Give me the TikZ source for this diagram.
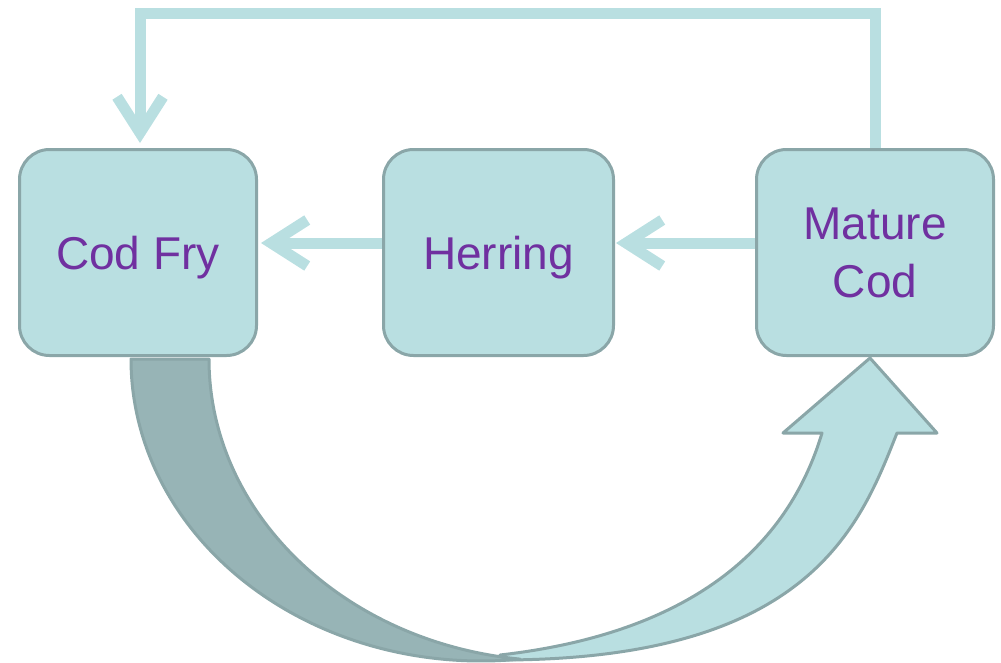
\documentclass[tikz,border=0pt]{standalone}
\usepackage{fontspec}
\setmainfont{Liberation Sans}
\usetikzlibrary{arrows.meta}
\definecolor{boxfill}{HTML}{B9DFE1}
\definecolor{boxline}{HTML}{8AA6A8}
\definecolor{backfill}{HTML}{97B4B6}
\definecolor{labelpurple}{HTML}{7030A0}
\begin{document}
\begin{tikzpicture}[x=1pt,y=-1pt,
  stage/.style={draw=boxline, line width=3pt, fill=boxfill, rounded corners=30pt,
    minimum height=206pt, inner sep=0pt, text=labelpurple,
    font=\fontsize{46pt}{58pt}\selectfont, align=center},
  conn/.style={draw=boxfill, line width=11pt,
    -{Straight Barb[sharp, length=36pt, width=46pt]}},
  band/.style={draw=boxline, line width=3pt, line join=round}]
\useasboundingbox (0,0) rectangle (1001,662);

% cycle arrow under the boxes: light front part, then shaded back part
\draw[band, fill=boxfill] (500,660) .. controls (810,660) and (860,526) .. (897,433)
  -- (937,433) -- (870,358) -- (783,433) -- (822,433)
  .. controls (795,523) and (720,630) .. (500,655) -- cycle;
\draw[band, fill=backfill] (131,359)
  arc[start angle=180, end angle=276.4, x radius=350pt, y radius=302pt]
  arc[start angle=263.6, end angle=180, x radius=350pt, y radius=302pt] -- cycle;

% life stages
\node[stage, minimum width=237pt, text depth=0pt] (fry) at (138,252.5) {Cod Fry};
\node[stage, minimum width=230pt, text depth=0pt] (herring) at (498.5,252.5) {Herring};
\node[stage, minimum width=237pt] (mature) at (875,252.5) {Mature\\Cod};

% feeding links
\coordinate (topy) at (0,13.5);
\draw[conn, shorten >=5pt] (mature.north) -- (mature.north |- topy)
  -| ([xshift=2pt]fry.north);
\draw[conn, shorten >=1pt] ([yshift=9.5pt]mature.west) -- ([yshift=9.5pt]herring.east);
\draw[conn, shorten >=3pt] ([yshift=9.5pt]herring.west) -- ([yshift=9.5pt]fry.east);
\end{tikzpicture}
\end{document}
